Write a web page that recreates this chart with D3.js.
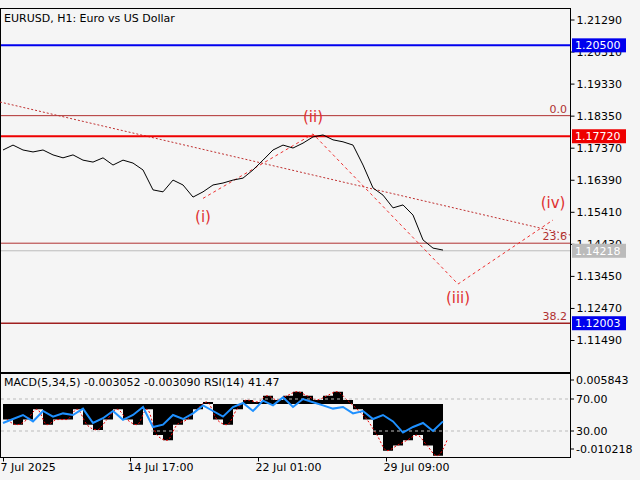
<!DOCTYPE html><html><head><meta charset="utf-8"><script src="https://cdn.jsdelivr.net/npm/d3@7"></script>
<style>body{margin:0;background:#f5f5f5}text{font-family:"DejaVu Sans",sans-serif}</style></head><body><svg id="c" width="640" height="480"></svg><script>
const closes=[1.1730,1.1745,1.1730,1.1724,1.1730,1.1715,1.1706,1.1715,1.1699,1.1693,1.1706,1.1684,1.1699,1.1690,1.1669,1.1608,1.1602,1.1638,1.1623,1.1586,1.1602,1.1623,1.1629,1.1638,1.1644,1.1669,1.1699,1.1730,1.1745,1.1736,1.1751,1.1770,1.1776,1.1761,1.1755,1.1745,1.1684,1.1614,1.1592,1.1553,1.1562,1.1531,1.1455,1.1430,1.1424];
const rsi=[40,45,50,42,55,48,52,50,58,40,46,55,44,50,60,35,38,50,45,52,62,55,48,60,65,55,68,62,72,60,70,66,62,58,60,52,55,45,50,42,28,35,40,30,42];
const macd=[-0.003,-0.004,-0.003,-0.001,-0.004,-0.003,-0.003,-0.001,-0.004,-0.005,-0.003,-0.001,-0.003,-0.004,-0.001,-0.006,-0.007,-0.004,-0.003,-0.001,0.0005,-0.003,-0.004,-0.001,0.001,0.0005,0.002,0.001,0.002,0.003,0.002,0.001,0.002,0.003,0.001,-0.001,-0.003,-0.006,-0.009,-0.008,-0.007,-0.006,-0.008,-0.01,-0.007];
const priceTicks=[1.21290,1.20310,1.19330,1.18350,1.17370,1.16390,1.15410,1.14430,1.13450,1.12470,1.11490];
const timeLabels=[[0,"7 Jul 2025"],[12.7,"14 Jul 17:00"],[25.5,"22 Jul 01:00"],[38.3,"29 Jul 09:00"]];
const levels={blue:1.20500,red:1.17720,fib0:1.18350,fib236:1.1445,fib382:1.12003,last:1.14218};
const waves=[["(i)",1.1582,20],["(ii)",1.1779,31],["(iii)",1.1320,45.5],["(iv)",1.1516,55]];
const svg=d3.select("#c");
const R=570,T=8,B=372,B2T=373,B2B=457;
const x=d3.scaleLinear().domain([0,44]).range([3,443]);
const y=d3.scaleLinear().domain([1.11490,1.21290]).range([340,19.5]);
svg.append("rect").attr("x",0.5).attr("y",T+0.5).attr("width",R).attr("height",B-T).attr("fill","#f5f5f5").attr("stroke","#000");
svg.append("rect").attr("x",0.5).attr("y",B2T+0.5).attr("width",R).attr("height",B2B-B2T).attr("fill","#f5f5f5").attr("stroke","#000");
const ax=d3.axisRight(y).tickValues(priceTicks).tickFormat(d3.format(".5f")).tickSize(4);
const g=svg.append("g").attr("transform",`translate(${R+0.5},0)`).call(ax);
g.select(".domain").remove();g.selectAll("text").attr("font-size",11).attr("fill","#000").attr("x",6);
svg.append("line").attr("x1",0).attr("y1",102).attr("x2",R).attr("y2",235).attr("stroke","#c03030").attr("stroke-dasharray","2,2");
function hl(v,c,w){svg.append("line").attr("x1",1).attr("x2",R).attr("y1",y(v)).attr("y2",y(v)).attr("stroke",c).attr("stroke-width",w);}
hl(levels.blue,"#0000ee",2);hl(levels.red,"#ee0000",2);hl(levels.fib0,"#b03030",1);hl(levels.fib236,"#b03030",1);hl(levels.last,"#bbbbbb",1);hl(levels.fib382,"#a02020",1.5);
[["0.0",levels.fib0],["23.6",levels.fib236],["38.2",levels.fib382]].forEach(([t,v])=>svg.append("text").attr("x",567).attr("y",y(v)-3).attr("text-anchor","end").attr("font-size",11).attr("fill","#b03030").text(t));
function lab(v,c,tc){svg.append("rect").attr("x",572).attr("y",y(v)-7).attr("width",54).attr("height",14).attr("fill",c);svg.append("text").attr("x",575).attr("y",y(v)+4).attr("font-size",11).attr("fill",tc).text(d3.format(".5f")(v));}
lab(levels.blue,"#0000ee","#fff");lab(levels.red,"#ee0000","#fff");lab(levels.last,"#bbbbbb","#fff");lab(levels.fib382,"#0000ee","#fff");
svg.append("path").attr("d",d3.line().x(d=>x(d[2])).y(d=>y(d[1]))(waves)).attr("fill","none").attr("stroke","#ee3030").attr("stroke-dasharray","3,3");
const off=[24,-12,19,-12];
waves.forEach((w,i)=>svg.append("text").attr("x",x(w[2])).attr("y",y(w[1])+off[i]).attr("text-anchor","middle").attr("font-size",15).attr("fill","#e03030").text(w[0]));
svg.append("path").attr("d",d3.line().x((d,i)=>x(i)).y(d=>y(d))(closes)).attr("fill","none").attr("stroke","#000").attr("stroke-width",1);
svg.append("text").attr("x",4).attr("y",22).attr("font-size",11).text("EURUSD, H1:  Euro vs US Dollar");
const ym=d3.scaleLinear().domain([-0.010218,0,0.005843]).range([457,404,380]);
const yr=d3.scaleLinear().domain([30,70]).range([431,399]);
const bw=x(1)-x(0);
svg.append("path").attr("d",d3.area().x((d,i)=>x(i)).y0(ym(0)).y1(d=>ym(d)).curve(d3.curveStepAfter)(macd)).attr("fill","#000");
svg.append("path").attr("d",d3.line().x((d,i)=>x(i)+4).y(d=>ym(d)).curve(d3.curveMonotoneX)(macd)).attr("fill","none").attr("stroke","#ee0000").attr("stroke-dasharray","2,2");
[70,30].forEach(v=>svg.append("line").attr("x1",1).attr("x2",R).attr("y1",yr(v)).attr("y2",yr(v)).attr("stroke","#bbb").attr("stroke-dasharray","3,3"));
svg.append("path").attr("d",d3.line().x((d,i)=>x(i)).y(d=>yr(d))(rsi)).attr("fill","none").attr("stroke","#1e90ff").attr("stroke-width",2);
svg.append("text").attr("x",4).attr("y",386).attr("font-size",11).text("MACD(5,34,5) -0.003052 -0.003090 RSI(14) 41.47");
[["0.005843",380],["70.00",yr(70)],["30.00",yr(30)],["-0.010218",449]].forEach(([t,yy])=>{svg.append("line").attr("x1",R).attr("x2",R+4).attr("y1",yy).attr("y2",yy).attr("stroke","#000");svg.append("text").attr("x",R+6).attr("y",yy+4).attr("font-size",11).text(t);});
const xa=d3.axisBottom(x).tickValues(timeLabels.map(d=>d[0])).tickFormat((d,i)=>timeLabels[i][1]).tickSize(4);
const gx=svg.append("g").attr("transform",`translate(0,${B2B+0.5})`).call(xa);
gx.select(".domain").remove();gx.selectAll("text").attr("font-size",11).attr("fill","#000").attr("text-anchor","start").attr("x",-3).attr("dy","0.6em");
</script></body></html>
